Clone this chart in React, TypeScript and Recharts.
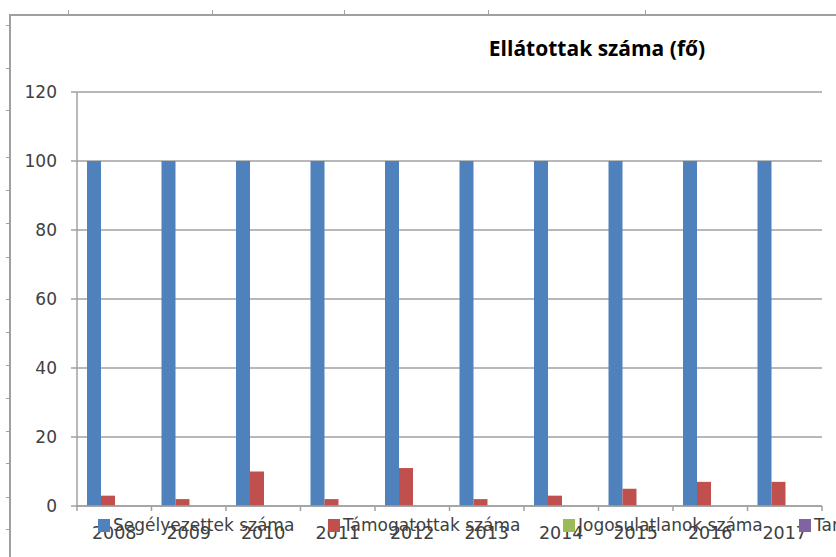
import { BarChart, Bar, XAxis, YAxis, CartesianGrid, Legend } from 'recharts';

const years = ['2008', '2009', '2010', '2011', '2012', '2013', '2014', '2015', '2016', '2017'];
const segelyezettek = [100, 100, 100, 100, 100, 100, 100, 100, 100, 100];
const tamogatottak = [3, 2, 10, 2, 11, 2, 3, 5, 7, 7];
const jogosulatlanok = [0, 0, 0, 0, 0, 0, 0, 0, 0, 0];
const tartosan = [0, 0, 0, 0, 0, 0, 0, 0, 0, 0];
const yTicks = [0, 20, 40, 60, 80, 100, 120];

const SERIES = [
    { key: 'seg', name: 'Segélyezettek száma', color: '#4F81BD', values: segelyezettek },
    { key: 'tam', name: 'Támogatottak száma', color: '#C0504D', values: tamogatottak },
    { key: 'jog', name: 'Jogosulatlanok száma', color: '#9BBB59', values: jogosulatlanok },
    { key: 'tar', name: 'Tartósan ellátottak száma', color: '#8064A2', values: tartosan },
];

const data = years.map((year, i) => {
    const row: Record<string, string | number> = { year };
    SERIES.forEach((s) => {
        row[s.key] = s.values[i];
    });
    return row;
});

const FONT = '"DejaVu Sans", sans-serif';
const TITLE_FONT = '"Open Sans", sans-serif';
const TEXT = '#404040';
const LINE = '#a0a0a0';
const TICK_SIZE = 5;
const TICK_MARGIN = 16;

// frame ticks of the sheet behind the chart
const topTicks = [68, 212, 344, 488, 645];
const leftTicks = [25, 68, 110, 157, 190, 223, 257, 299, 332, 365, 398, 431, 463, 497, 529];

const ITEM_WIDTHS = [230, 235, 236, 300];

function LegendContent({ payload }: any) {
    const items = SERIES.map((s) => (payload || []).find((p: any) => p.value === s.name)).filter(Boolean);
    return (
        <div style={{ display: 'flex', whiteSpace: 'nowrap', fontFamily: FONT, fontSize: 17, color: TEXT }}>
            {items.map((entry: any, i: number) => (
                <div key={entry.value} style={{ display: 'flex', alignItems: 'center', width: ITEM_WIDTHS[i], flexShrink: 0 }}>
                    <span style={{ display: 'inline-block', width: 12, height: 13, background: entry.color, marginRight: 3, flexShrink: 0 }} />
                    <span>{entry.value}</span>
                </div>
            ))}
        </div>
    );
}

// category label plus Excel-style tick marks on the category boundaries
function YearTick({ x, y, payload, index, width, visibleTicksCount }: any) {
    const band = width / visibleTicksCount;
    const axisY = y - TICK_SIZE - TICK_MARGIN;
    const left = x - band / 2;
    const right = x + band / 2;
    return (
        <g>
            <line x1={left} x2={left} y1={axisY} y2={axisY + TICK_SIZE} stroke={LINE} strokeWidth={1.5} />
            {index === visibleTicksCount - 1 && (
                <line x1={right} x2={right} y1={axisY} y2={axisY + TICK_SIZE} stroke={LINE} strokeWidth={1.5} />
            )}
            <text x={x} y={y} dy="0.71em" textAnchor="middle" fontFamily={FONT} fontSize={17.5} fill={TEXT}>
                {payload.value}
            </text>
        </g>
    );
}

export default function App() {
    return (
        <div style={{ position: 'relative', width: 836, height: 557, overflow: 'hidden', background: '#fff' }}>
            <style>{'body{margin:0}'}</style>
            <div style={{ position: 'absolute', left: 9, top: 14, width: 900, height: 600, borderTop: `2px solid ${LINE}`, borderLeft: `2px solid ${LINE}` }} />
            {topTicks.map((x) => (
                <div key={x} style={{ position: 'absolute', left: x, top: 10, width: 1, height: 4, background: LINE }} />
            ))}
            {leftTicks.map((y) => (
                <div key={y} style={{ position: 'absolute', left: 6, top: y, width: 3, height: 1, background: LINE }} />
            ))}
            <div
                style={{
                    position: 'absolute',
                    left: 470,
                    top: 34,
                    width: 254,
                    textAlign: 'center',
                    fontFamily: TITLE_FONT,
                    fontWeight: 700,
                    fontSize: 21,
                    color: '#000',
                    whiteSpace: 'nowrap',
                }}
            >
                Ellátottak száma (fő)
            </div>
            <div style={{ position: 'absolute', left: 0, top: 0 }}>
                <BarChart
                    width={836}
                    height={557}
                    data={data}
                    margin={{ top: 92, right: 14, left: 0, bottom: 0 }}
                    barCategoryGap={10}
                    barGap={0}
                >
                    <CartesianGrid vertical={false} stroke={LINE} strokeWidth={1.5} />
                    <XAxis
                        dataKey="year"
                        height={51}
                        axisLine={{ stroke: LINE, strokeWidth: 1.5 }}
                        tickLine={false}
                        tickSize={TICK_SIZE}
                        tickMargin={TICK_MARGIN}
                        interval={0}
                        tick={<YearTick />}
                    />
                    <YAxis
                        width={77}
                        domain={[0, 120]}
                        ticks={yTicks}
                        interval={0}
                        tickSize={6}
                        tickMargin={14}
                        axisLine={{ stroke: LINE, strokeWidth: 1.5 }}
                        tickLine={{ stroke: LINE, strokeWidth: 1.5 }}
                        tick={{ fontFamily: FONT, fontSize: 17, fill: TEXT }}
                    />
                    <Legend
                        layout="horizontal"
                        verticalAlign="middle"
                        align="center"
                        content={<LegendContent />}
                        wrapperStyle={{ position: 'absolute', top: 515, left: 98, width: 1100 }}
                    />
                    {SERIES.map((s) => (
                        <Bar key={s.key} dataKey={s.key} name={s.name} fill={s.color} isAnimationActive={false} />
                    ))}
                </BarChart>
            </div>
        </div>
    );
}
